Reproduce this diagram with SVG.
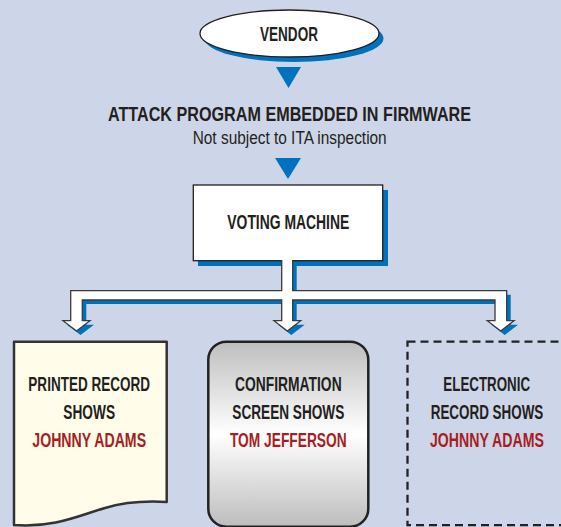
<svg xmlns="http://www.w3.org/2000/svg" width="561" height="527" viewBox="0 0 561 527">
<style>
.t{font-family:"Liberation Sans Narrow","Liberation Sans",Arial,sans-serif;font-weight:bold;fill:#231F20;text-anchor:middle}
.r{fill:#A61E22}
.n{font-family:"Liberation Sans Narrow","Liberation Sans",Arial,sans-serif;font-weight:normal;fill:#231F20;text-anchor:middle}
.sh{fill:#0071BC}
.ln{stroke:#231F20;stroke-width:1.3}
</style>
<defs>
<linearGradient id="g" x1="0" y1="0" x2="0" y2="1">
<stop offset="0" stop-color="#BEBEBF"/>
<stop offset="0.5" stop-color="#FFFFFF"/>
<stop offset="1" stop-color="#BDBDBE"/>
</linearGradient>
</defs>
<rect width="561" height="527" fill="#CDD6E8"/>

<g id="vendor">
<ellipse class="sh" cx="294" cy="38.5" rx="89.5" ry="23.5"/>
<ellipse class="ln" cx="289.5" cy="33.5" rx="89.5" ry="23.5" fill="#fff"/>
<text class="t" x="289" y="41" font-size="20" textLength="58" lengthAdjust="spacingAndGlyphs">VENDOR</text>
</g>

<g id="attack">
<text class="t" x="289.5" y="121" font-size="21" textLength="363" lengthAdjust="spacingAndGlyphs">ATTACK PROGRAM EMBEDDED IN FIRMWARE</text>
<text class="n" x="289.7" y="143.5" font-size="18" textLength="194" lengthAdjust="spacingAndGlyphs">Not subject to ITA inspection</text>
</g>

<g id="voting-machine">
<rect class="sh" x="198" y="190" width="190" height="76"/>
<rect class="ln" x="193.3" y="185" width="189.4" height="75.7" fill="#fff"/>
<text class="t" x="288.3" y="228.5" font-size="21" textLength="122" lengthAdjust="spacingAndGlyphs">VOTING MACHINE</text>
</g>

<g id="connectors">
<polygon class="sh" points="276,67 301,67 288.5,88"/>
<polygon class="sh" points="275,158 301,158 288,179"/>
<path class="sh" transform="translate(4,4)" d="M292.7,258 V290.7 H506.7 V320.7 H514 L500.7,331 L487.3,320.7 H495 V300 H292.7 V320.7 H300.7 L287.3,331 L274,320.7 H281.7 V300 H82.3 V320.7 H90 L76.5,331 L63,320.7 H70.7 V290.7 H281.7 V258 Z"/>
<path fill="#fff" stroke="#3a3a3a" stroke-width="1.3" d="M292.7,260 V290.7 H506.7 V320.7 H514 L500.7,331 L487.3,320.7 H495 V300 H292.7 V320.7 H300.7 L287.3,331 L274,320.7 H281.7 V300 H82.3 V320.7 H90 L76.5,331 L63,320.7 H70.7 V290.7 H281.7 V260"/>
</g>

<g id="printed-record">
<path d="M14,341.7 H166.7 V502 C150,501 125,502 105,508 C80,515 55,528 14,525 Z" fill="#FFFDEA" stroke="#333" stroke-width="2.5" stroke-linejoin="round"/>
<text class="t" x="89.2" y="391" font-size="20" textLength="121.7" lengthAdjust="spacingAndGlyphs">PRINTED RECORD</text>
<text class="t" x="89.2" y="419.3" font-size="20" textLength="51.7" lengthAdjust="spacingAndGlyphs">SHOWS</text>
<text class="t r" x="89.2" y="447.3" font-size="20" textLength="113.7" lengthAdjust="spacingAndGlyphs">JOHNNY ADAMS</text>
</g>

<g id="confirmation-screen">
<rect x="208.3" y="341.7" width="160" height="185" rx="18" fill="url(#g)" stroke="#222" stroke-width="2.5"/>
<text class="t" x="288.3" y="391" font-size="20" textLength="106.7" lengthAdjust="spacingAndGlyphs">CONFIRMATION</text>
<text class="t" x="288.3" y="419.3" font-size="20" textLength="112" lengthAdjust="spacingAndGlyphs">SCREEN SHOWS</text>
<text class="t r" x="288.3" y="447.3" font-size="20" textLength="116.7" lengthAdjust="spacingAndGlyphs">TOM JEFFERSON</text>
</g>

<g id="electronic-record">
<rect x="407.5" y="341.7" width="170" height="183.5" fill="none" stroke="#222" stroke-width="2.3" stroke-dasharray="8 5"/>
<text class="t" x="486.7" y="391" font-size="20" textLength="86.7" lengthAdjust="spacingAndGlyphs">ELECTRONIC</text>
<text class="t" x="487" y="419.3" font-size="20" textLength="112.6" lengthAdjust="spacingAndGlyphs">RECORD SHOWS</text>
<text class="t r" x="487" y="447.3" font-size="20" textLength="114" lengthAdjust="spacingAndGlyphs">JOHNNY ADAMS</text>
</g>
</svg>
